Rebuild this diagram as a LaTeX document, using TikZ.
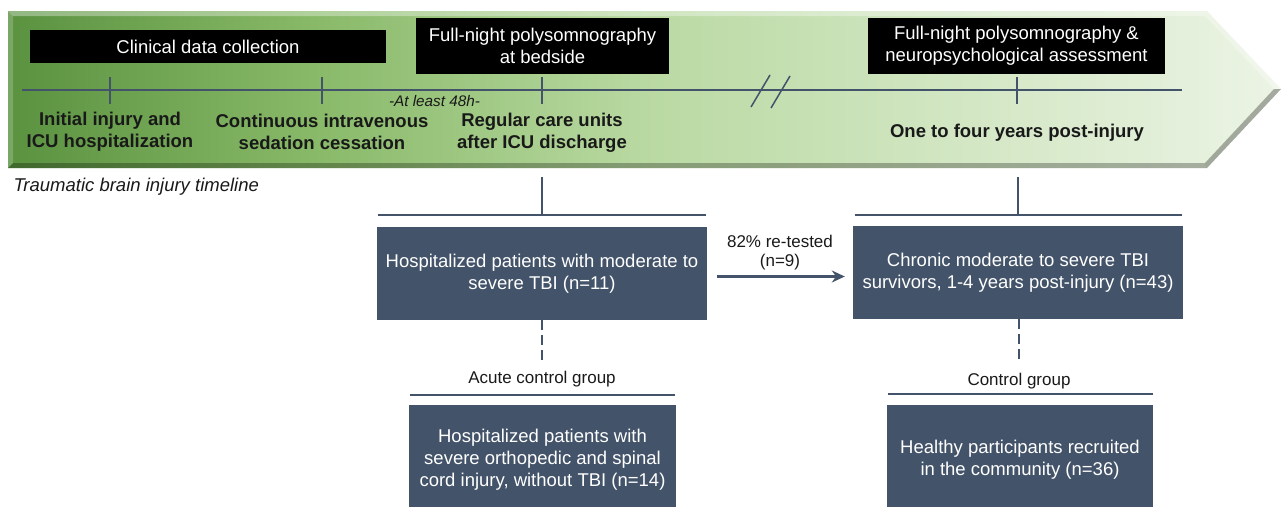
\documentclass[tikz,border=0pt]{standalone}
\usepackage{fontspec}
\setmainfont{Liberation Sans}
\usetikzlibrary{arrows.meta}
\definecolor{slate}{HTML}{435369}
\definecolor{gA}{HTML}{5A9240}
\definecolor{gB}{HTML}{88B968}
\definecolor{gC}{HTML}{B9D9A2}
\definecolor{gD}{HTML}{ECF4E5}
\pgfdeclarehorizontalshading{tlgreen}{100bp}{color(0bp)=(gA); color(25bp)=(gA); color(37bp)=(gB); color(50bp)=(gC); color(75bp)=(gD); color(100bp)=(gD)}
\newcommand\fsM{\fontsize{18.5}{22}\selectfont}
\newcommand\fsS{\fontsize{17}{19}\selectfont}
\newcommand\fsT{\fontsize{15.3}{18}\selectfont}
\begin{document}
\begin{tikzpicture}[x=1pt,y=-1pt,
  blk/.style={fill=black,text=white,inner sep=0pt,align=center,font=\fsM},
  grp/.style={fill=slate,text=white,inner sep=0pt,align=center,font=\fsM},
  lab/.style={font=\fsM\bfseries,align=center,text=black!90},
  small/.style={font=\fsS,align=center,text=black!90},
  ln/.style={draw=slate,line width=1.5pt},
  dashln/.style={draw=slate,line width=1.5pt,dash pattern=on 10pt off 5pt}]
\useasboundingbox (0,0) rectangle (1282,506);
\clip (0,0) rectangle (1282,506);
% timeline arrow with bevel
\shade[shading=tlgreen] (8,11) -- (1207,11) -- (1281,89) -- (1207,168) -- (8,168) -- cycle;
\fill[white,opacity=.35] (8,11) -- (1207,11) -- (1205,16) -- (13,16) -- cycle;
\fill[white,opacity=.2] (8,11) -- (13,16) -- (13,163) -- (8,168) -- cycle;
\fill[black,opacity=.28] (8,168) -- (1207,168) -- (1205,163) -- (13,163) -- cycle;
\fill[white,opacity=.3] (1207,11) -- (1281,89) -- (1274,89) -- (1205,16) -- cycle;
\fill[black,opacity=.3] (1281,89) -- (1207,168) -- (1205,163) -- (1274,89) -- cycle;
% black boxes
\node[blk,minimum width=356pt,minimum height=33pt] (cdc) at (208,46.5) {Clinical data collection};
\node[blk,minimum width=253pt,minimum height=56pt] (psg1) at (542.5,46) {Full-night polysomnography\\at bedside};
\node[blk,minimum width=297pt,minimum height=56pt] (psg2) at (1016.5,46) {Full-night polysomnography \&\\neuropsychological assessment};
% timeline
\coordinate (t0) at (22,90);
\coordinate (t1) at (1182,90);
\draw[ln] (t0) -- (t1);
\foreach \x/\n in {110/k1,322/k2,542/k3,1017/k4}{
  \coordinate (\n a) at (\x,77);
  \coordinate (\n b) at (\x,104);
  \draw[ln] (\n a) -- (\n b);
}
\draw[ln] (751,107) -- (770,75);
\draw[ln] (771,108) -- (790,76);
\node[font=\fsT\itshape,text=black!90] (least) at (434.5,101) {-At least 48h-};
\node[lab] (l1) at (110,132) {Initial injury and\\ICU hospitalization};
\node[lab] (l2) at (322,132) {Continuous intravenous\\sedation cessation};
\node[lab] (l3) at (542,133) {Regular care units\\after ICU discharge};
\node[lab] (l4) at (1017,133) {One to four years post-injury};
\node[font=\fsM\itshape,anchor=west,text=black!90] (title) at (10,187) {Traumatic brain injury timeline};
% lower part
\node[grp,minimum width=330pt,minimum height=93pt] (A) at (542,273.5) {Hospitalized patients with moderate to\\severe TBI (n=11)};
\node[grp,minimum width=330pt,minimum height=93pt] (C) at (1018,272.5) {Chronic moderate to severe TBI\\survivors, 1-4 years post-injury (n=43)};
\coordinate (v1) at (542,177);
\coordinate (h1l) at (378,215);
\coordinate (h1r) at (706,215);
\draw[ln] (v1) -- (v1 |- h1l);
\draw[ln] (h1l) -- (h1r);
\coordinate (v2) at (1018,177);
\coordinate (h2l) at (855,215);
\coordinate (h2r) at (1182,215);
\draw[ln] (v2) -- (v2 |- h2l);
\draw[ln] (h2l) -- (h2r);
\draw[draw=slate,line width=2.5pt,-{Stealth[length=13pt,width=12pt]}] ([xshift=10pt,yshift=-3pt]A.east) -- ([xshift=-8pt,yshift=-4pt]C.west);
\node[small] (rt) at (780,252.5) {82\% re-tested\\(n=9)};
% control groups
\node[small] (acg) at (542,379) {Acute control group};
\node[small] (cg) at (1019,381) {Control group};
\coordinate (d1) at (542,363);
\coordinate (d2) at (1019,364);
\draw[dashln] (A.south) -- (d1);
\draw[dashln] (C.south -| d2) -- (d2);
\coordinate (h3l) at (410,395);
\coordinate (h3r) at (675,395);
\coordinate (h4l) at (888,394);
\coordinate (h4r) at (1153,394);
\draw[ln] (h3l) -- (h3r);
\draw[ln] (h4l) -- (h4r);
\node[grp,minimum width=267pt,minimum height=110pt] (B) at (542.5,460) {Hospitalized patients with\\severe orthopedic and spinal\\cord injury, without TBI (n=14)};
\node[grp,minimum width=266pt,minimum height=110pt] (D) at (1020,460) {Healthy participants recruited\\in the community (n=36)};
\end{tikzpicture}
\end{document}
